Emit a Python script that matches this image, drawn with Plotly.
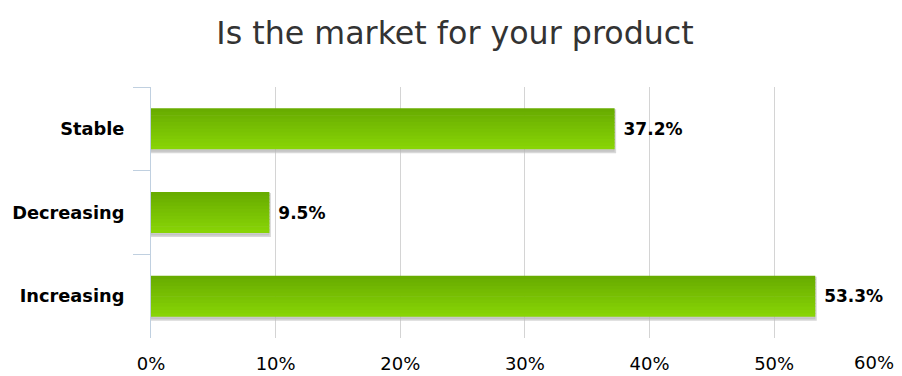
import plotly.graph_objects as go

title = "Is the market for your product"
categories = ["Stable", "Decreasing", "Increasing"]
values = [37.2, 9.5, 53.3]
x_ticks = [0, 10, 20, 30, 40, 50, 60]
x_tick_labels = ["0%", "10%", "20%", "30%", "40%", "50%", "60%"]

FONT = "DejaVu Sans, Verdana, sans-serif"
BAR_W = 0.49
N_STRIPS = 12
top_rgb = (0x68, 0xAC, 0x00)
bot_rgb = (0x88, 0xD4, 0x06)

fig = go.Figure()

# shadow
fig.add_trace(go.Bar(
    x=values, y=categories, orientation="h",
    width=BAR_W, offset=-BAR_W / 2 + 0.03,
    marker=dict(color="rgba(170,170,170,0.6)", line=dict(color="rgba(190,190,190,0.6)", width=3)),
    hoverinfo="skip", showlegend=False,
))

# gradient strips (top darker -> bottom lighter); y axis reversed so offset grows downward
for i in range(N_STRIPS):
    t = i / (N_STRIPS - 1)
    c = tuple(round(top_rgb[k] + (bot_rgb[k] - top_rgb[k]) * t) for k in range(3))
    w = BAR_W / N_STRIPS + (0.008 if i < N_STRIPS - 1 else 0)
    fig.add_trace(go.Bar(
        x=values, y=categories, orientation="h",
        width=w,
        offset=-BAR_W / 2 + i * BAR_W / N_STRIPS,
        marker=dict(color="rgb(%d,%d,%d)" % c, line=dict(width=0)),
        hoverinfo="skip", showlegend=False,
    ))

# labels
fig.add_trace(go.Bar(
    x=values, y=categories, orientation="h",
    width=BAR_W, offset=-BAR_W / 2,
    marker=dict(color="rgba(0,0,0,0)", line=dict(width=0)),
    text=["\u00a0" + f"{v:.1f}%" for v in values],
    textposition="outside",
    textfont=dict(family=FONT, size=17, color="#000000", weight="bold"),
    cliponaxis=False,
    showlegend=False,
))

# last tick label is pulled inside the chart, as in the reference
shown_labels = x_tick_labels[:-1] + [""]
fig.add_annotation(
    x=x_ticks[-1], xref="x", xanchor="right", xshift=-3,
    y=0, yref="paper", yanchor="middle", yshift=-24,
    text=x_tick_labels[-1], showarrow=False,
    font=dict(family=FONT, size=18, color="#000000"),
)

fig.update_layout(
    width=894, height=368,
    barmode="overlay",
    paper_bgcolor="white", plot_bgcolor="white",
    margin=dict(l=143, r=2, t=79, b=38),
    title=dict(text=title, x=0.5, xanchor="center", y=1 - 25 / 368, yanchor="middle",
               yref="container",
               font=dict(family=FONT, size=31.7, color="#333333")),
    xaxis=dict(
        range=[0, 60.1], tickvals=x_ticks, ticktext=shown_labels,
        showgrid=True, gridcolor="#D4D4D4", gridwidth=1,
        zeroline=False, showline=False, ticks="",
        tickfont=dict(family=FONT, size=18, color="#000000"),
        ticklabelstandoff=13,
        automargin=False,
    ),
    yaxis=dict(
        autorange="reversed", categoryorder="array", categoryarray=categories,
        showgrid=False, zeroline=False,
        showline=True, linecolor="#C0D0E0", linewidth=1,
        ticks="outside", tickson="boundaries", ticklen=17, tickcolor="#C0D0E0",
        tickfont=dict(family=FONT, size=17.8, color="#000000", weight="bold"),
        ticklabelstandoff=22,
        automargin=False,
    ),
)

fig.write_html("out.html")
